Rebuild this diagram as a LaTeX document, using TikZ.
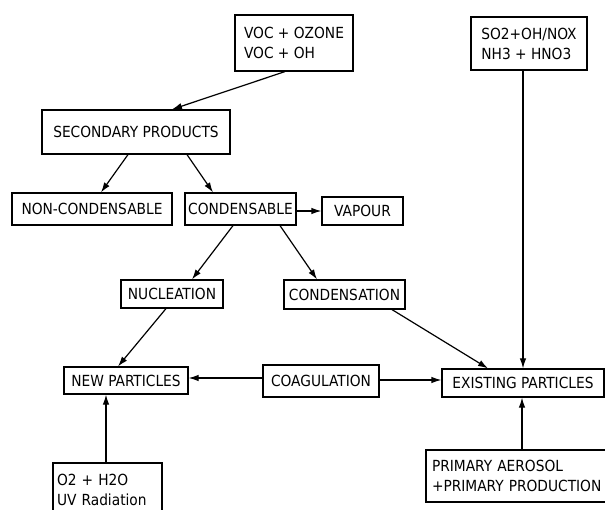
\documentclass[tikz,border=0pt]{standalone}
\usepackage{fontspec}
\setmainfont{DejaVu Sans Condensed}
\usetikzlibrary{arrows.meta}
\begin{document}
\begin{tikzpicture}[x=1pt,y=-1pt,
  box/.style={draw,line width=1.2pt,inner sep=0pt,font=\fontsize{15.3}{20}\selectfont},
  arr/.style={line width=1.2pt,-{Latex[length=10pt,width=6.5pt]}}]
\useasboundingbox (0,0) rectangle (605,510);
\node[box,minimum width=118,minimum height=56,align=left] (voc) at (294,43) {VOC + OZONE\\VOC + OH};
\node[box,minimum width=116,minimum height=53,align=left] (so2) at (529,43.5) {SO2+OH/NOX\\NH3 + HNO3};
\node[box,minimum width=188,minimum height=44] (sec) at (136,132) {SECONDARY PRODUCTS};
\node[box,minimum width=160,minimum height=32] (noncond) at (92,209) {NON-CONDENSABLE};
\node[box,minimum width=111,minimum height=32] (cond) at (240.5,209) {CONDENSABLE};
\node[box,minimum width=81,minimum height=28] (vapour) at (362.5,211) {VAPOUR};
\node[box,minimum width=102,minimum height=28] (nucl) at (172,294) {NUCLEATION};
\node[box,minimum width=121,minimum height=29] (condens) at (344.5,294.5) {CONDENSATION};
\node[box,minimum width=124,minimum height=27] (newp) at (126,380.5) {NEW PARTICLES};
\node[box,minimum width=116,minimum height=32] (coag) at (321,381) {COAGULATION};
\node[box,minimum width=162,minimum height=28] (exist) at (523,383) {EXISTING PARTICLES};
\node[box,minimum height=54,text width=101,align=left,inner xsep=4pt] (o2) at (107.5,490) {O2 + H2O\\UV Radiation};
\node[box,minimum height=52,text width=212,align=left,inner xsep=6pt] (prim) at (538,476) {PRIMARY AEROSOL\\+PRIMARY PRODUCTION};
\draw[arr] ([xshift=-9]voc.south) -- ([xshift=36]sec.north);
\draw[arr] ([xshift=-8]sec.south) -- ([xshift=9]noncond.north);
\draw[arr] ([xshift=51]sec.south) -- ([xshift=-27.5]cond.north);
\draw[arr] ([yshift=-2]cond.east) -- (vapour.west);
\draw[arr] ([xshift=-7.5]cond.south) -- ([xshift=20]nucl.north);
\draw[arr] ([xshift=39.5]cond.south) -- ([xshift=-27.5]condens.north);
\draw[arr] ([xshift=-6]nucl.south) -- ([xshift=-8]newp.north);
\draw[arr] ([xshift=47.5]condens.south) -- ([xshift=-35]exist.north);
\draw[arr] ([xshift=-6]so2.south) -- ([xshift=0]exist.north);
\draw[arr] ([yshift=3]coag.west) -- ([yshift=2.5]newp.east);
\draw[arr] ([yshift=1]coag.east) -- ([yshift=3]exist.west);
\draw[arr] ([xshift=-1.5]o2.north) -- ([xshift=-20]newp.south);
\draw[arr] ([xshift=-16]prim.north) -- ([xshift=-1]exist.south);
\end{tikzpicture}
\end{document}
